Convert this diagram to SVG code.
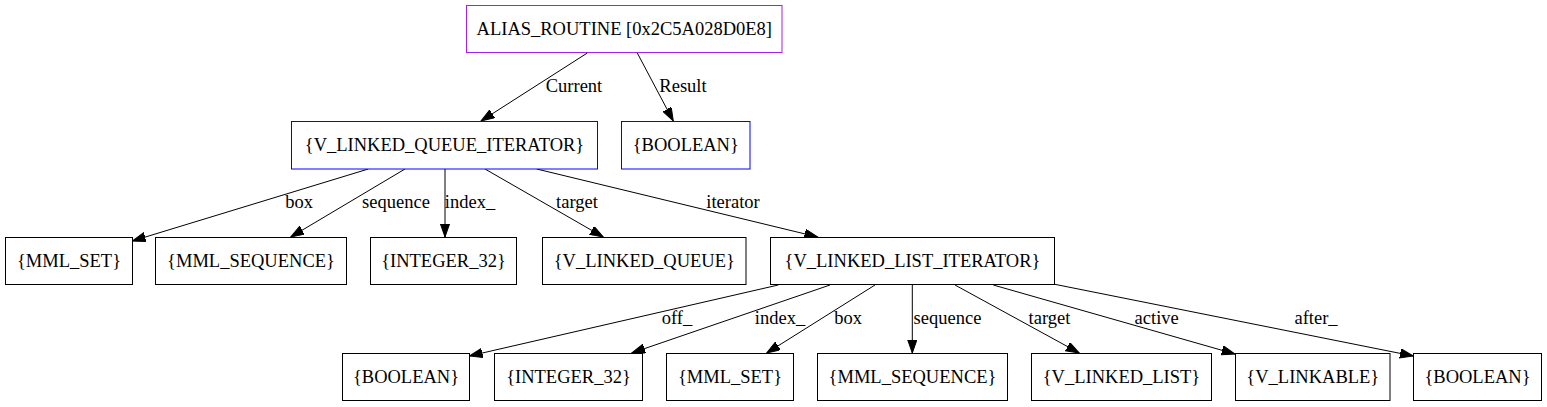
<svg xmlns="http://www.w3.org/2000/svg" width="1547" height="407" viewBox="0 0 1547 407">
<style>
  .n { fill: #ffffff; stroke: #000000; stroke-width: 1; }
  .root { stroke: #a020f0; }
  .blue { stroke: #0000ff; }
  .t { font-family: "Liberation Serif", "Times New Roman", serif; font-size: 18.5px; fill: #000000; text-anchor: middle; }
  .e { fill: none; stroke: #000000; stroke-width: 1; marker-end: url(#ah); }
</style>
<defs>
  <marker id="ah" markerUnits="userSpaceOnUse" markerWidth="14" markerHeight="10" refX="13.3" refY="4.67" orient="auto">
    <path d="M0,0 L13.3,4.67 L0,9.33 z" fill="#000000" stroke="#000000" stroke-width="1"/>
  </marker>
</defs>
<rect width="1547" height="407" fill="#ffffff"/>
<g id="connectors">
  <path class="e" d="M587.3,53 L481,121"/>
  <text class="t" x="574" y="92">Current</text>
  <path class="e" d="M637.3,53 L673.3,121"/>
  <text class="t" x="683" y="92">Result</text>
  <path class="e" d="M368.3,169 L132.3,241"/>
  <text class="t" x="299" y="207.5">box</text>
  <path class="e" d="M405,169 L290.7,237"/>
  <text class="t" x="396" y="207.5">sequence</text>
  <path class="e" d="M445,169 L445,237"/>
  <text class="t" x="470" y="207.5">index_</text>
  <path class="e" d="M485,169 L603.3,237"/>
  <text class="t" x="577" y="207.5">target</text>
  <path class="e" d="M536.7,169 L817.7,237"/>
  <text class="t" x="733" y="207.5">iterator</text>
  <path class="e" d="M778.3,285 L469.3,356"/>
  <text class="t" x="677" y="323.5">off_</text>
  <path class="e" d="M830,285 L631.7,353"/>
  <text class="t" x="780" y="323.5">index_</text>
  <path class="e" d="M875,285 L766.7,353"/>
  <text class="t" x="848" y="323.5">box</text>
  <path class="e" d="M912.3,285 L912.3,353"/>
  <text class="t" x="947.5" y="323.5">sequence</text>
  <path class="e" d="M955,285 L1079.3,353"/>
  <text class="t" x="1049.5" y="323.5">target</text>
  <path class="e" d="M993.3,285 L1235,354"/>
  <text class="t" x="1156.7" y="323.5">active</text>
  <path class="e" d="M1053.3,284 L1413.3,356"/>
  <text class="t" x="1316" y="323.5">after_</text>
</g>
<g id="root">
  <rect class="n root" x="466.5" y="5.5" width="315.5" height="47"/>
  <text class="t" x="624.3" y="34.5">ALIAS_ROUTINE [0x2C5A028D0E8]</text>
</g>
<g id="vlqi">
  <rect class="n blue" x="291.5" y="121.5" width="306" height="47.5"/>
  <text class="t" x="444.5" y="150.5">{V_LINKED_QUEUE_ITERATOR}</text>
</g>
<g id="boolean1">
  <rect class="n blue" x="621.5" y="121.5" width="128.5" height="47.5"/>
  <text class="t" x="685.8" y="150.5">{BOOLEAN}</text>
</g>
<g id="mml_set1">
  <rect class="n" x="5.5" y="237.5" width="127" height="47"/>
  <text class="t" x="69" y="266.5">{MML_SET}</text>
</g>
<g id="mml_sequence1">
  <rect class="n" x="155.5" y="237.5" width="191" height="47"/>
  <text class="t" x="251" y="266.5">{MML_SEQUENCE}</text>
</g>
<g id="integer_32_1">
  <rect class="n" x="370.5" y="237.5" width="146" height="47"/>
  <text class="t" x="443.5" y="266.5">{INTEGER_32}</text>
</g>
<g id="v_linked_queue">
  <rect class="n" x="542.5" y="237.5" width="203.5" height="47"/>
  <text class="t" x="644.3" y="266.5">{V_LINKED_QUEUE}</text>
</g>
<g id="vlli">
  <rect class="n" x="770.5" y="237.5" width="284" height="47"/>
  <text class="t" x="912.5" y="266.5">{V_LINKED_LIST_ITERATOR}</text>
</g>
<g id="boolean2">
  <rect class="n" x="342.5" y="353.5" width="127" height="47"/>
  <text class="t" x="406" y="382.5">{BOOLEAN}</text>
</g>
<g id="integer_32_2">
  <rect class="n" x="494.5" y="353.5" width="148" height="47"/>
  <text class="t" x="568.5" y="382.5">{INTEGER_32}</text>
</g>
<g id="mml_set2">
  <rect class="n" x="666.5" y="353.5" width="127" height="47"/>
  <text class="t" x="730" y="382.5">{MML_SET}</text>
</g>
<g id="mml_sequence2">
  <rect class="n" x="817.5" y="353.5" width="190" height="47"/>
  <text class="t" x="912.5" y="382.5">{MML_SEQUENCE}</text>
</g>
<g id="v_linked_list">
  <rect class="n" x="1031.5" y="353.5" width="180" height="47"/>
  <text class="t" x="1121.5" y="382.5">{V_LINKED_LIST}</text>
</g>
<g id="v_linkable">
  <rect class="n" x="1235.5" y="353.5" width="154.5" height="47"/>
  <text class="t" x="1312.8" y="382.5">{V_LINKABLE}</text>
</g>
<g id="boolean3">
  <rect class="n" x="1413.5" y="353.5" width="128" height="47"/>
  <text class="t" x="1477.5" y="382.5">{BOOLEAN}</text>
</g>
</svg>
